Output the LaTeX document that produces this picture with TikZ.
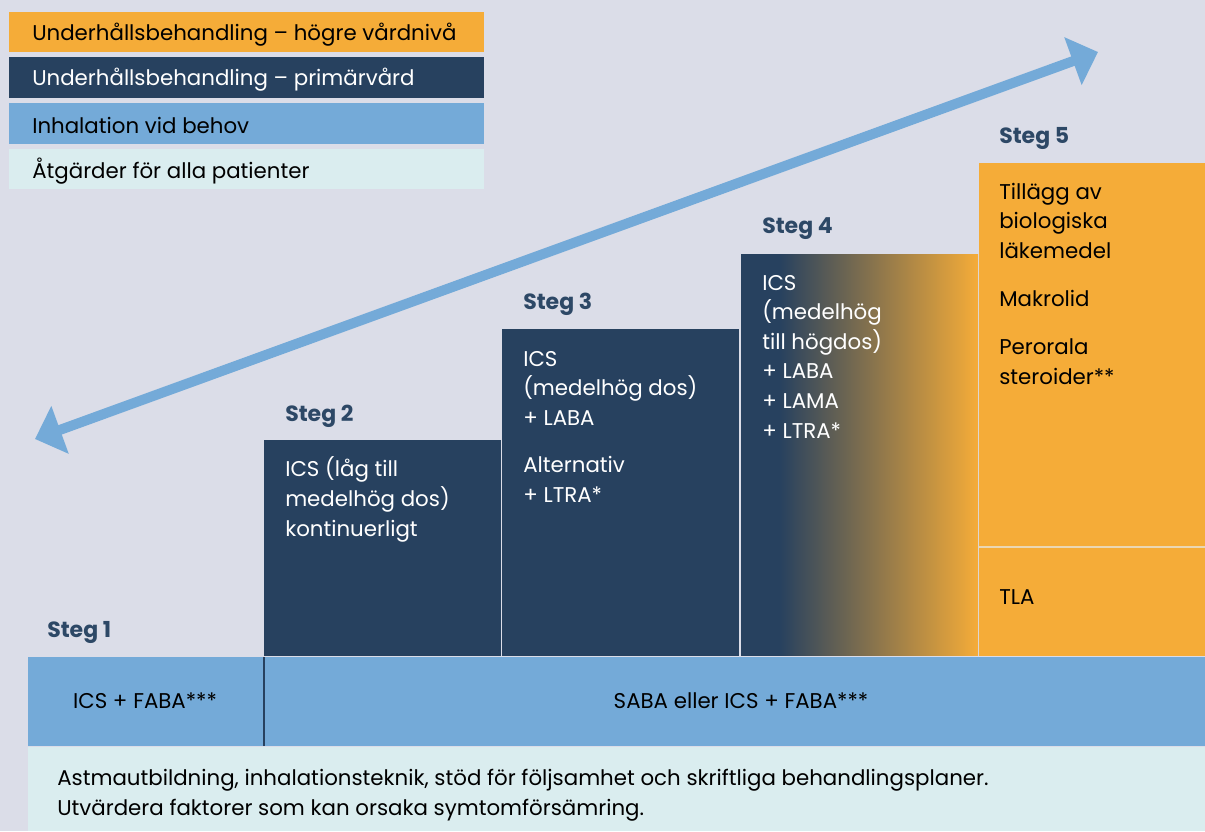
\documentclass[tikz,border=0pt]{standalone}
\usepackage{fontspec}
\setmainfont{Poppins}
\usetikzlibrary{arrows.meta}
\definecolor{bg}{HTML}{DBDDE8}
\definecolor{navy}{HTML}{27415F}
\definecolor{amber}{HTML}{F5AC38}
\definecolor{sky}{HTML}{74AAD8}
\definecolor{mint}{HTML}{DAEDEF}
\definecolor{stegc}{HTML}{2D4866}
\definecolor{seam}{HTML}{EAD7B4}
\begin{document}
\begin{tikzpicture}[x=0.75pt,y=-0.75pt,
  txt/.style={inner sep=0pt, anchor=base west, font=\fontsize{16}{22.2}\selectfont},
  legtext/.style={txt},
  steglabel/.style={txt, text=stegc, font=\fontsize{16.5}{22.2}\selectfont\bfseries},
  boxtext/.style={txt, align=left},
  wtext/.style={boxtext, text=white},
  btext/.style={boxtext, text=black},
  bigarrow/.style={sky, line width=7.5pt, >={Triangle[length=20pt,width=37pt]}, <->}]
\fill[bg] (0,0) rectangle (1205,831);
\useasboundingbox (0,0) rectangle (1205,831);

% legend
\fill[amber] (9,12) rectangle (484,52);
\fill[navy] (9,57) rectangle (484,98);
\fill[sky] (9,103) rectangle (484,144);
\fill[mint] (9,149) rectangle (484,189);
\node[legtext] (lg1) at (32,41) {Underhållsbehandling – högre vårdnivå};
\node[legtext, text=white] (lg2) at (32,86) {Underhållsbehandling – primärvård};
\node[legtext] (lg3) at (32,133) {Inhalation vid behov};
\node[legtext] (lg4) at (32,178) {Åtgärder för alla patienter};

% double arrow
\coordinate (lo) at (35,439);
\coordinate (hi) at (1098,52);
\draw[bigarrow] (lo) -- (hi);

% bottom bands
\fill[mint] (28,747) rectangle (1205,831);
\fill[sky] (28,657) rectangle (1205,746);
\draw[navy, line width=1pt] (264,657) -- (264,746);
\node[txt, anchor=base] (b1) at (145,708) {ICS + FABA***};
\node[txt, anchor=base] (b2) at (741,708) {SABA eller ICS + FABA***};
% align=left nodes: the base anchor sits on the last line
\node[boxtext] (all) at (57,815) {Astmautbildning, inhalationsteknik, stöd för följsamhet och skriftliga behandlingsplaner.\\Utvärdera faktorer som kan orsaka symtomförsämring.};

% step boxes
\fill[navy] (264,440) rectangle (501,656);
\fill[navy] (502,329) rectangle (739,656);
\fill[navy] (741,254) rectangle (780,656);
\shade[left color=navy, right color=amber] (779,254) rectangle (978,655.5);
\fill[amber] (979,163) rectangle (1205,656);
\draw[seam, line width=1.2pt] (979,547) -- (1205,547);

% step labels
\node[steglabel] (s1) at (47,637) {Steg 1};
\node[steglabel] (s2) at (285,421) {Steg 2};
\node[steglabel] (s3) at (523,309) {Steg 3};
\node[steglabel] (s4) at (762,233) {Steg 4};
\node[steglabel] (s5) at (999,143) {Steg 5};

% step contents
\node[wtext] (t2) at (285,536) {ICS (låg till\\medelhög dos)\\kontinuerligt};
\node[wtext] (t3) at (523,502) {ICS\\(medelhög dos)\\+ LABA\\[13pt]Alternativ\\+ LTRA*};
\node[wtext] (t4) at (762,438) {ICS\\(medelhög\\till högdos)\\+ LABA\\+ LAMA\\+ LTRA*};
\node[btext] (t5) at (999,384) {Tillägg av\\biologiska\\läkemedel\\[13.8pt]Makrolid\\[13.8pt]Perorala\\steroider**};
\node[btext] (t6) at (999,604) {TLA};
\end{tikzpicture}
\end{document}
